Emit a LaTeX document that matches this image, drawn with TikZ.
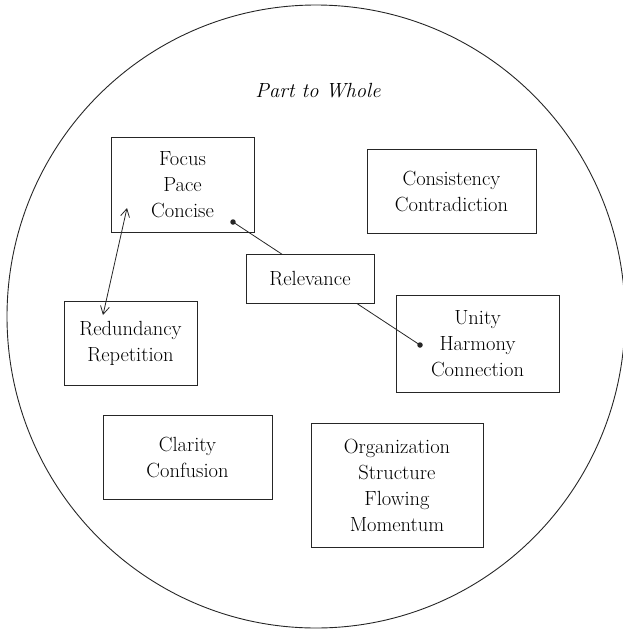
\documentclass[tikz,border=0pt]{standalone}
\usetikzlibrary{arrows.meta}
\begin{document}
\begin{tikzpicture}[x=1pt,y=-1pt,
  box/.style={draw=black!85,line width=0.9pt,align=center,inner sep=0pt,
    font=\fontsize{20.5}{26}\selectfont},
  link/.style={draw=black!85,line width=0.8pt},
  dotend/.style={fill=black!85,circle,inner sep=0pt,minimum size=5.5pt},
  barb/.style={draw=black!85,line width=0.8pt,{Straight Barb[length=8pt,width=9pt,line width=0.8pt]}-{Straight Barb[length=8pt,width=9pt,line width=0.8pt]}}]
\useasboundingbox (0,0) rectangle (623,630);
\clip (0,0) rectangle (623,630);
\draw[line width=0.9pt,black!85] (316,316.5) ellipse [x radius=309, y radius=311.5];
\node[font=\fontsize{20.5}{26}\selectfont\itshape] (title) at (318,91) {Part to Whole};
\node[box,minimum width=143pt,minimum height=95pt] (focus) at (182.5,184.5) {Focus\\Pace\\Concise};
\node[box,minimum width=169pt,minimum height=84pt] (consist) at (451.5,191) {Consistency\\Contradiction};
\node[box,minimum width=163pt,minimum height=97pt] (unity) at (477.5,343.5) {Unity\\Harmony\\Connection};
\node[box,minimum width=133pt,minimum height=84pt] (redund) at (130.5,343) {Redundancy\\Repetition};
\node[box,minimum width=169pt,minimum height=84pt] (clarity) at (187.5,457) {Clarity\\Confusion};
\node[box,minimum width=172pt,minimum height=124pt] (org) at (397,485) {Organization\\Structure\\Flowing\\Momentum};
% line behind Relevance
\node[dotend] (dot1) at (233,222) {};
\node[dotend] (dot2) at (420,345) {};
\draw[link] (dot1.center) -- (dot2.center);
\node[box,fill=white,minimum width=128pt,minimum height=49pt] (relev) at (310,278.5) {Relevance};
\coordinate (a1) at (127,208);
\coordinate (a2) at (103,315);
\draw[barb] (a2) -- (a1);
\end{tikzpicture}
\end{document}
